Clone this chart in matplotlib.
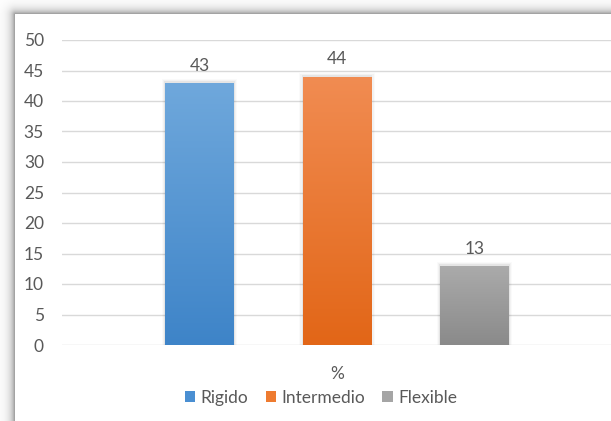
import numpy as np
import matplotlib
matplotlib.use("Agg")
import matplotlib.pyplot as plt
from matplotlib.colors import LinearSegmentedColormap
from matplotlib.patches import Rectangle

# Data
category = "%"
series_names = ["Rigido", "Intermedio", "Flexible"]
series_values = [43, 44, 13]
y_ticks = [0, 5, 10, 15, 20, 25, 30, 35, 40, 45, 50]

# Gradient colours per series (top, bottom)
grad_colors = [("#6FA8DC", "#3E84C8"), ("#F18C52", "#E26617"), ("#ABABAB", "#8A8A8A")]
legend_colors = ["#4A8FD2", "#EE7B30", "#A5A5A5"]
text_color = "#595959"
grid_color = "#D9D9D9"

plt.rcParams["font.family"] = ["Lato", "DejaVu Sans"]
fs = 12.5

W, H = 611, 421
fig = plt.figure(figsize=(W / 100, H / 100), dpi=100)

# Panel with drop shadow along its top and left edges
bg = fig.add_axes([0, 0, 1, 1])
img = np.ones((H, W, 3))
px0, py0 = 15, 14
xs = np.arange(W)[None, :]
ys = np.arange(H)[:, None]
dx = np.clip(px0 - xs, 0, None).astype(float)
dy = np.clip(py0 - ys, 0, None).astype(float)
d = np.sqrt(dx ** 2 + dy ** 2)
shade = np.where(d > 0, 0.55 + 0.45 * (1 - np.exp(-d / 4.5)), 1.0)
img *= shade[..., None]
bg.imshow(img, extent=[0, W, H, 0], aspect="auto", interpolation="bilinear")
bg.set_xlim(0, W)
bg.set_ylim(H, 0)
bg.axis("off")

# Plot area
left, right = 62 / W, 612 / W
bottom, top = 1 - 345 / H, 1 - 40 / H
ax = fig.add_axes([left, bottom, right - left, top - bottom])
ax.set_facecolor("none")
ax.set_xlim(-2.0, 2.0)
ax.set_ylim(0, 50)
ax.set_yticks(y_ticks)
ax.yaxis.grid(True, color=grid_color, linewidth=1.0)
ax.set_axisbelow(True)
for s in ax.spines.values():
    s.set_visible(False)
ax.tick_params(axis="y", length=0, pad=13, labelsize=fs, labelcolor=text_color)
ax.set_xticks([0])
ax.set_xticklabels([category])
ax.tick_params(axis="x", length=0, pad=15, labelsize=fs, labelcolor=text_color)

positions = np.arange(len(series_values)) - 1
width = 0.5
bars = ax.bar(positions, series_values, width=width, color="none", zorder=3)
for bar, (c_top, c_bot), val in zip(bars, grad_colors, series_values):
    x0, w = bar.get_x(), bar.get_width()
    # soft shadow
    for k, a in enumerate([0.05, 0.03, 0.02]):
        sh = Rectangle((x0 - 0.008 * (k + 1), 0), w + 0.016 * (k + 1), val + 0.2 * (k + 1),
                       facecolor="black", alpha=a, edgecolor="none", zorder=2)
        ax.add_patch(sh)
    cmap = LinearSegmentedColormap.from_list("g", [c_bot, c_top])
    grad = np.linspace(0, 1, 256)[:, None]
    im = ax.imshow(grad, cmap=cmap, extent=[x0, x0 + w, 0, val], origin="lower",
                   aspect="auto", zorder=3, interpolation="bilinear")
    im.set_clip_path(bar)
    ax.text(bar.get_x() + w / 2, val + 1.5, f"{val}", ha="center", va="bottom",
            fontsize=fs, color=text_color, zorder=4)
ax.set_xlim(-2.0, 2.0)
ax.set_ylim(0, 50)

# Legend
handles = [Rectangle((0, 0), 1, 1, facecolor=c, edgecolor="none") for c in legend_colors]
fig.legend(handles, series_names, loc="center", bbox_to_anchor=(321 / W, 1 - 398 / H),
           ncol=3, frameon=False, fontsize=fs, labelcolor=text_color,
           handlelength=0.6, handleheight=0.6, handletextpad=0.3, columnspacing=1.0)

fig.savefig("out.png", dpi=100)
